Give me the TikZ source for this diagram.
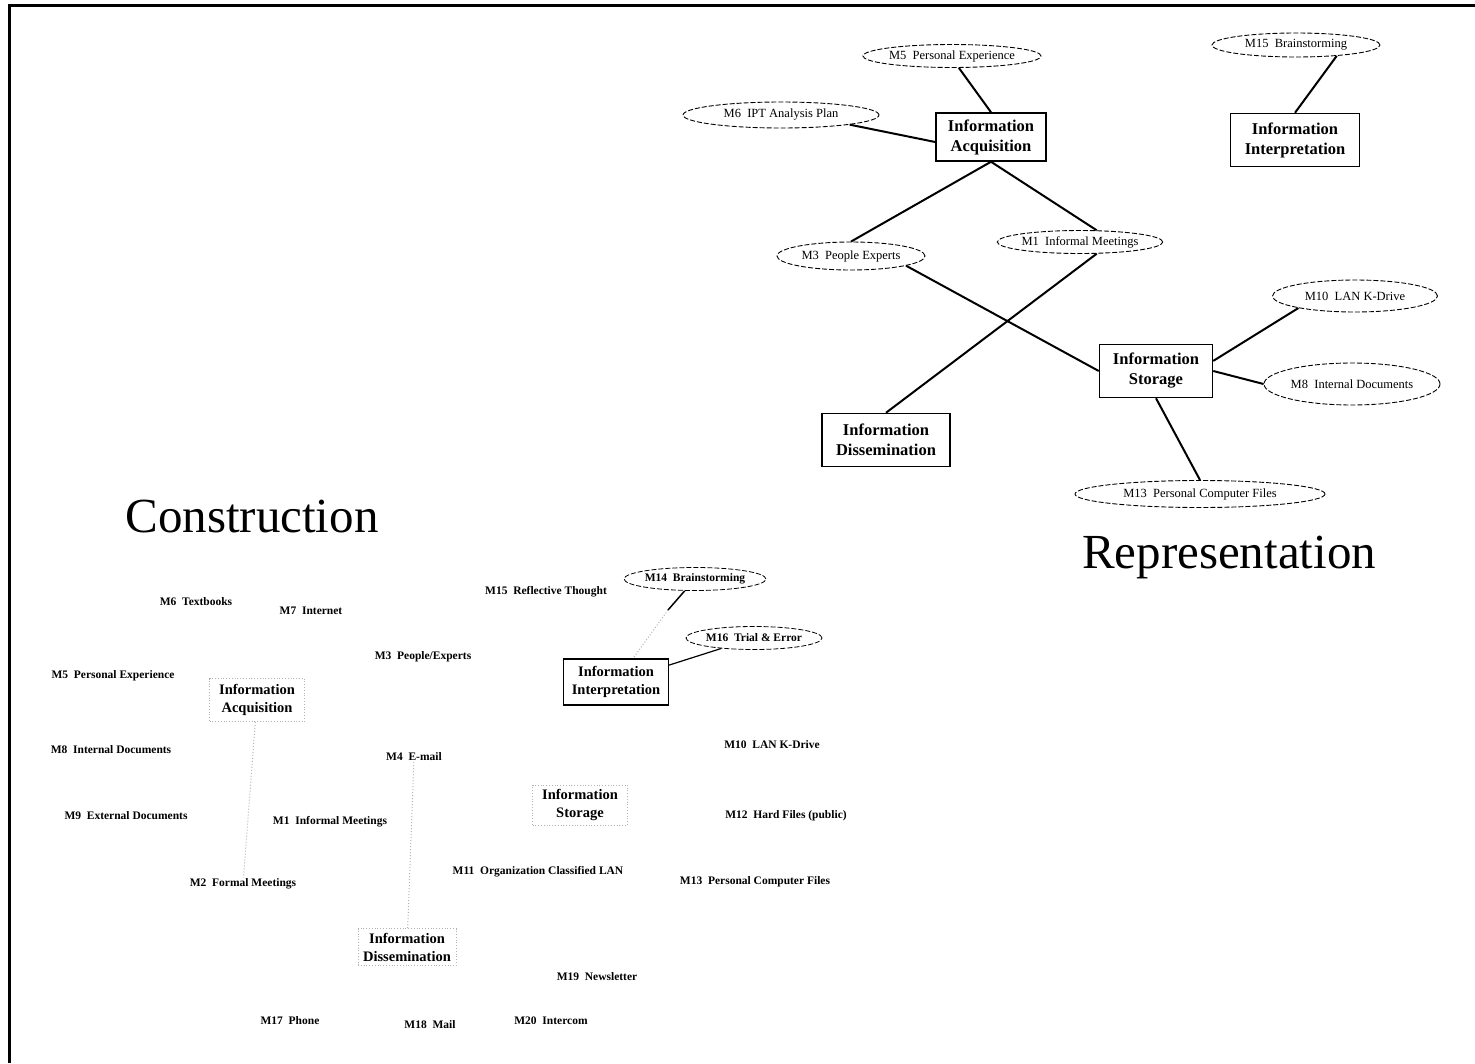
\documentclass[tikz,border=0pt]{standalone}
\usepackage{fontspec}
\setmainfont{Liberation Serif}
\usetikzlibrary{shapes.geometric}
\tikzset{
  bigbox/.style={draw, line width=1.5pt, fill=white, align=center, inner sep=0pt,
    font=\fontsize{16.5}{20}\selectfont\bfseries},
  oval/.style={ellipse, draw, dash pattern=on 5pt off 2pt, line width=0.9pt, inner sep=0pt,
    font=\fontsize{12.5}{14}\selectfont},
  link/.style={line width=2pt},
  lab/.style={inner sep=1pt, font=\fontsize{11.5}{13}\selectfont\bfseries},
  faintbox/.style={draw=gray!60, dotted, line width=0.8pt, align=center, inner sep=0pt,
    font=\fontsize{14.5}{18}\selectfont\bfseries},
  faintlink/.style={draw=gray!60, dotted, line width=1pt},
  title/.style={font=\fontsize{49}{55}\selectfont, inner sep=0pt}
}
\begin{document}
\begin{tikzpicture}[x=1pt,y=-1pt]
\useasboundingbox (0,0) rectangle (1475,1063);
\coordinate (fA) at (9,1063);
\coordinate (fB) at (9,5);
\coordinate (fC) at (1475,5);
\draw[line width=3pt] (fA) -- (fB) -- (fC);

% ---------------- Representation (top right)
\node[bigbox, minimum width=110, minimum height=48] (acq) at (991,137) {Information\\Acquisition};
\node[bigbox, minimum width=129, minimum height=53] (int) at (1295,140) {Information\\Interpretation};
\node[bigbox, minimum width=113, minimum height=53] (sto) at (1156,371) {Information\\Storage};
\node[bigbox, minimum width=128, minimum height=53] (dis) at (886,440) {Information\\Dissemination};

\node[oval, minimum width=166, minimum height=23] (m5) at (952,56) {M5\ \ Personal Experience};
\node[oval, minimum width=196, minimum height=26] (m6) at (781,115) {M6\ \ IPT Analysis Plan};
\node[oval, minimum width=168, minimum height=24] (m15) at (1296,45) {M15\ \ Brainstorming};
\node[oval, minimum width=148, minimum height=28] (m3) at (851,256) {M3\ \ People Experts};
\node[oval, minimum width=140, minimum height=23] (m1) at (1080,242) {M1\ \ Informal Meetings};
\node[oval, minimum width=165, minimum height=32] (m10) at (1355,296) {M10\ \ LAN K-Drive};
\node[oval, minimum width=176, minimum height=42] (m8) at (1352,384) {M8\ \ Internal Documents};
\node[oval, minimum width=250, minimum height=27] (m13) at (1200,494) {M13\ \ Personal Computer Files};

\draw[link] (m5.-60) -- (acq.north);
\draw[link] (m6.-8) -- ([yshift=-5pt]acq.west);
\draw[link] (m15.-15) -- (int.north);
\draw[link] (acq.south) -- (m3.north);
\draw[link] (acq.south) -- (m1.35);
\draw[link] (m3.-10) -- (sto.west);
\draw[link] (m1.-35) -- (dis.north);
\draw[link] (sto.10) -- (m10.-168);
\draw[link] (sto.east) -- (m8.west);
\draw[link] (sto.south) -- (m13.north);

\node[title] (trep) at (1229,557) {Representation};
\node[title] (tcon) at (252,517) {Construction};

% ---------------- Construction (bottom left)
\node[faintbox, minimum width=95, minimum height=43] (bacq) at (257,700) {Information\\Acquisition};
\node[bigbox, line width=1.2pt, minimum width=105, minimum height=46,
      font=\fontsize{14.5}{18}\selectfont\bfseries] (bint) at (616,682) {Information\\Interpretation};
\node[faintbox, minimum width=95, minimum height=40] (bsto) at (580,805) {Information\\Storage};
\node[faintbox, minimum width=98, minimum height=37] (bdis) at (407,947) {Information\\Dissemination};

\node[lab] (b6) at (196,602) {M6\ \ Textbooks};
\node[lab] (b7) at (311,611) {M7\ \ Internet};
\node[lab] (b5) at (113,676) {M5\ \ Personal Experience};
\node[lab] (b8) at (111,750) {M8\ \ Internal Documents};
\node[lab] (b9) at (126,816) {M9\ \ External Documents};
\node[lab] (b3) at (423,657) {M3\ \ People/Experts};
\node[lab] (b4) at (414,757) {M4\ \ E-mail};
\node[lab] (b1) at (330,822) {M1\ \ Informal Meetings};
\node[lab] (b2) at (243,884) {M2\ \ Formal Meetings};
\node[lab] (b15) at (546,592) {M15\ \ Reflective Thought};
\node[oval, line width=0.8pt, minimum width=140, minimum height=23,
      font=\fontsize{11.5}{13}\selectfont\bfseries] (b14) at (695,579) {M14\ \ Brainstorming};
\node[oval, line width=0.8pt, minimum width=136, minimum height=23,
      font=\fontsize{11.5}{13}\selectfont\bfseries] (b16) at (754,638) {M16\ \ Trial \& Error};
\node[lab] (b10) at (772,745) {M10\ \ LAN K-Drive};
\node[lab] (b12) at (786,816) {M12\ \ Hard Files (public)};
\node[lab] (b11) at (538,872) {M11\ \ Organization Classified LAN};
\node[lab] (b13) at (755,882) {M13\ \ Personal Computer Files};
\node[lab] (b19) at (597,977) {M19\ \ Newsletter};
\node[lab] (b17) at (290,1021) {M17\ \ Phone};
\node[lab] (b18) at (430,1025) {M18\ \ Mail};
\node[lab] (b20) at (551,1021) {M20\ \ Intercom};

\coordinate (bmid) at (668,610);
\draw[line width=1.5pt] (b14) -- (bmid);
\draw[faintlink] (bmid) -- (bint);
\draw[line width=1.2pt] (b16) -- (bint);
\draw[faintlink] (bacq) -- (b2);
\draw[faintlink] (b4) -- (bdis);
\end{tikzpicture}
\end{document}
